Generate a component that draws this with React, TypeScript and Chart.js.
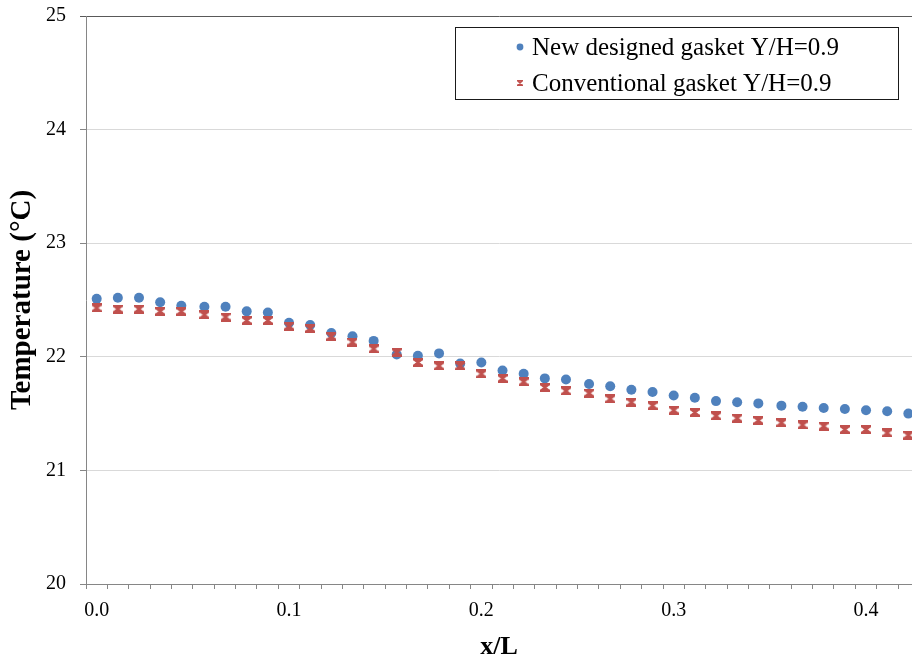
import React, { useEffect, useRef } from 'react';
import { Chart, registerables } from 'chart.js';

Chart.register(...registerables);

// x/L positions of the measurement points
const xValues = [
  0.0, 0.011, 0.022, 0.033, 0.044, 0.056, 0.067, 0.078, 0.089, 0.1,
  0.111, 0.122, 0.133, 0.144, 0.156, 0.167, 0.178, 0.189, 0.2, 0.211,
  0.222, 0.233, 0.244, 0.256, 0.267, 0.278, 0.289, 0.3, 0.311, 0.322,
  0.333, 0.344, 0.356, 0.367, 0.378, 0.389, 0.4, 0.411, 0.422,
];

// Temperature (°C), new designed gasket Y/H=0.9
const newGasket = [
  22.51, 22.52, 22.52, 22.48, 22.45, 22.44, 22.44, 22.4, 22.39, 22.3,
  22.28, 22.21, 22.18, 22.14, 22.02, 22.01, 22.03, 21.94, 21.95, 21.88,
  21.85, 21.81, 21.8, 21.76, 21.74, 21.71, 21.69, 21.66, 21.64, 21.61,
  21.6, 21.59, 21.57, 21.56, 21.55, 21.54, 21.53, 21.52, 21.5,
];

// Temperature (°C), conventional gasket Y/H=0.9
const conventionalGasket = [
  22.43, 22.42, 22.42, 22.4, 22.4, 22.37, 22.35, 22.32, 22.32, 22.27,
  22.25, 22.18, 22.13, 22.07, 22.04, 21.95, 21.92, 21.92, 21.85, 21.81,
  21.78, 21.73, 21.7, 21.68, 21.63, 21.6, 21.57, 21.53, 21.51, 21.48,
  21.46, 21.44, 21.42, 21.4, 21.39, 21.36, 21.36, 21.33, 21.31,
];

const seriesLabels = ['New designed gasket Y/H=0.9', 'Conventional gasket Y/H=0.9'];
const xTickLabels = ['0.0', '0.1', '0.2', '0.3', '0.4'];
const yTickValues = [20, 21, 22, 23, 24, 25];

const BLUE = '#4F81BD';
const RED = '#C0504D';
const SERIF = '"Liberation Serif", "Times New Roman", serif';
const CANVAS_W = 918;

function makeStarMarker(w: number, h: number, color: string, lw: number) {
  const c = document.createElement('canvas');
  c.width = w;
  c.height = h;
  const g = c.getContext('2d')!;
  g.strokeStyle = color;
  g.lineWidth = lw;
  g.lineCap = 'butt';
  const p = lw / 2;
  g.beginPath();
  g.moveTo(p, p);
  g.lineTo(w - p, h - p);
  g.moveTo(w - p, p);
  g.lineTo(p, h - p);
  g.moveTo(0, p);
  g.lineTo(w, p);
  g.moveTo(0, h - p);
  g.lineTo(w, h - p);
  g.stroke();
  return c;
}

export default function App() {
  const ref = useRef<HTMLCanvasElement | null>(null);

  useEffect(() => {
    if (!ref.current) return;
    const step = 1 / 90;
    const half = step / 2;
    const nCat = xValues.length;
    const starBig = makeStarMarker(10, 9, RED, 2.6);
    const starSmall = makeStarMarker(6, 6, RED, 1.5);

    const legendPlugin = {
      id: 'boxLegend',
      afterDraw(chart: any) {
        const ctx = chart.ctx;
        ctx.save();
        ctx.fillStyle = '#ffffff';
        ctx.fillRect(455, 27, 444, 72);
        ctx.strokeStyle = '#1a1a1a';
        ctx.lineWidth = 1;
        ctx.strokeRect(455.5, 27.5, 443, 72);
        ctx.font = `25px ${SERIF}`;
        ctx.textBaseline = 'middle';
        ctx.textAlign = 'left';
        const rows = [47, 83];
        ctx.beginPath();
        ctx.fillStyle = BLUE;
        ctx.arc(520, rows[0], 3.4, 0, Math.PI * 2);
        ctx.fill();
        ctx.drawImage(starSmall, 520 - 3, rows[1] - 3);
        ctx.fillStyle = '#000';
        ctx.fillText(seriesLabels[0], 532, rows[0] + 1);
        ctx.fillText(seriesLabels[1], 532, rows[1] + 1);
        ctx.restore();
      },
    };

    const chart = new Chart(ref.current, {
      type: 'scatter',
      data: {
        datasets: [
          {
            label: seriesLabels[0],
            data: xValues.map((x, i) => ({ x, y: newGasket[i] })),
            backgroundColor: BLUE,
            borderColor: BLUE,
            pointRadius: 5,
            pointBorderWidth: 0,
            order: 2,
          },
          {
            label: seriesLabels[1],
            data: xValues.map((x, i) => ({ x, y: conventionalGasket[i] })),
            backgroundColor: RED,
            borderColor: RED,
            pointStyle: starBig as any,
            pointRadius: 5,
            order: 1,
          },
        ],
      },
      options: {
        responsive: false,
        animation: false,
        layout: { padding: { top: 16, right: 0, left: 0, bottom: 0 } },
        plugins: {
          legend: { display: false },
          tooltip: { enabled: false },
        },
        scales: {
          x: {
            type: 'linear',
            min: -half,
            max: 0.4239,
            afterBuildTicks: (scale: any) => {
              const t = [];
              for (let k = 0; k < nCat; k++) t.push({ value: -half + k * step });
              scale.ticks = t;
            },
            afterFit: (scale: any) => {
              scale.height = 76;
              scale.paddingLeft = 0;
              scale.paddingRight = 0;
            },
            ticks: {
              autoSkip: false,
              maxRotation: 0,
              minRotation: 0,
              labelOffset: 10.7,
              padding: 10,
              color: '#000',
              font: { family: SERIF, size: 20 },
              callback: (_v: any, index: number) =>
                index % 9 === 0 ? xTickLabels[index / 9] ?? '' : '',
            },
            grid: {
              drawOnChartArea: false,
              drawTicks: true,
              tickLength: 5,
              color: '#868686',
            },
            border: { display: true, color: '#868686', width: 1 },
            title: {
              display: true,
              text: 'x/L',
              color: '#000',
              font: { family: SERIF, size: 26, weight: 'bold', lineHeight: 1 },
              padding: { top: 0, bottom: 0 },
            },
          },
          y: {
            type: 'linear',
            min: yTickValues[0],
            max: yTickValues[yTickValues.length - 1],
            afterBuildTicks: (scale: any) => {
              scale.ticks = yTickValues.map((v) => ({ value: v }));
            },
            afterFit: (scale: any) => {
              scale.width = 86;
              scale.paddingTop = 0;
              scale.paddingBottom = 0;
            },
            ticks: {
              padding: 14,
              color: '#000',
              font: { family: SERIF, size: 20 },
              callback: (v: any) => String(v),
            },
            grid: {
              color: (c: any) => (c.tick && c.tick.value === 25 ? '#595959' : '#d9d9d9'),
              tickColor: (c: any) => (c.tick && c.tick.value === 25 ? '#595959' : '#868686'),
              tickLength: 6,
              lineWidth: 1,
            },
            border: { display: true, color: '#868686', width: 1 },
            title: {
              display: true,
              text: 'Temperature (°C)',
              color: '#000',
              font: { family: SERIF, size: 29, weight: 'bold' },
              padding: { top: 5, bottom: 0 },
            },
          },
        },
      },
      plugins: [legendPlugin],
    } as any);

    return () => chart.destroy();
  }, []);

  return (
    <div style={{ position: 'fixed', left: 0, top: 0, width: 912, height: 660, overflow: 'hidden', background: '#fff' }}>
      <canvas ref={ref} width={CANVAS_W} height={660} style={{ display: 'block' }} />
    </div>
  );
}
